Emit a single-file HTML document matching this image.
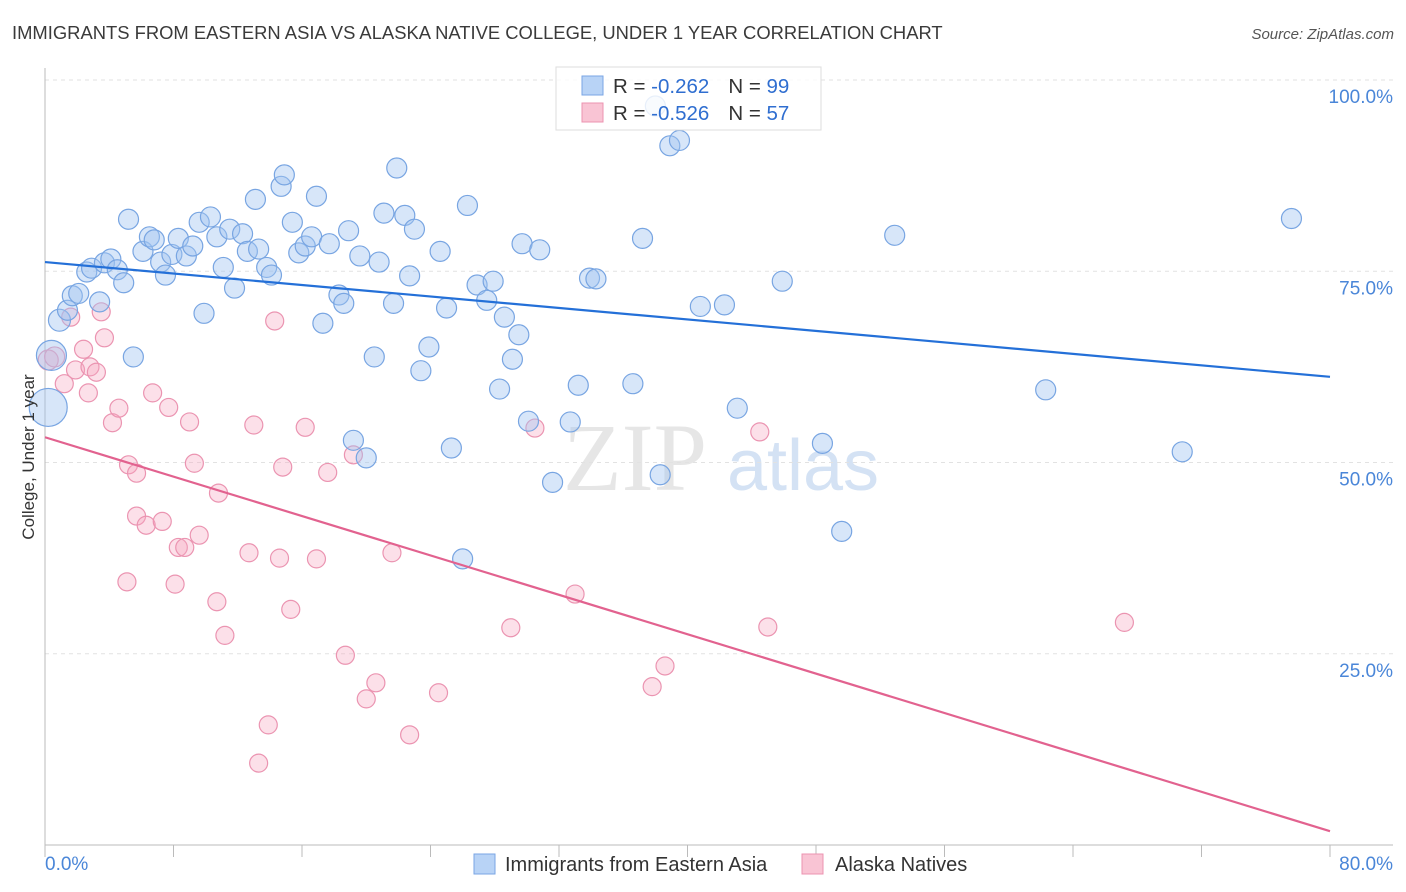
<!DOCTYPE html>
<html><head><meta charset="utf-8"><style>
body{margin:0;background:#fff;font-family:"Liberation Sans",sans-serif}
svg{display:block}
</style></head><body>
<svg id="chart" width="1406" height="892" xmlns="http://www.w3.org/2000/svg" font-family="Liberation Sans, sans-serif">
<text x="12" y="39" font-size="18.4" fill="#3a3a3a">IMMIGRANTS FROM EASTERN ASIA VS ALASKA NATIVE COLLEGE, UNDER 1 YEAR CORRELATION CHART</text>
<text x="1394" y="39" font-size="15" fill="#555" font-style="italic" text-anchor="end">Source: ZipAtlas.com</text>
<g>
<text x="635" y="490" font-size="96" fill="#e6e6e6" font-family="Liberation Serif, serif" text-anchor="middle">ZIP</text>
<text x="803" y="490" font-size="72" fill="#d4e2f4" text-anchor="middle">atlas</text>
</g>
<g id="grid"></g>
<g id="axes"></g>
<g id="marks"></g>
<text transform="translate(34,457) rotate(-90)" font-size="17" fill="#333" text-anchor="middle">College, Under 1 year</text>
<g>
<rect x="556" y="67" width="265" height="63" fill="rgba(255,255,255,0.82)" stroke="#ddd"/>
<rect x="582" y="76" width="21" height="19" fill="#b8d3f6" stroke="#7aa6e4"/>
<rect x="582" y="103" width="21" height="19" fill="#f9c4d4" stroke="#ec93b0"/>
<text x="613" y="93" font-size="20.5" fill="#333">R = <tspan fill="#2f6ed0">-0.262</tspan><tspan dx="19">N = </tspan><tspan fill="#2f6ed0">99</tspan></text>
<text x="613" y="120" font-size="20.5" fill="#333">R = <tspan fill="#2f6ed0">-0.526</tspan><tspan dx="19">N = </tspan><tspan fill="#2f6ed0">57</tspan></text>
</g>
<g>
<rect x="474" y="854" width="21" height="20" fill="#b8d3f6" stroke="#7aa6e4"/>
<text x="505" y="871" font-size="20" fill="#333">Immigrants from Eastern Asia</text>
<rect x="802" y="854" width="21" height="20" fill="#f9c4d4" stroke="#ec93b0"/>
<text x="835" y="871" font-size="20" fill="#333">Alaska Natives</text>
</g>
</svg>
<script>
const xTicks=[0,8,16,24,32,40,48,56,64,72,80];
const yTicks=[25,50,75,100];
const yTickLabels=["25.0%","50.0%","75.0%","100.0%"];
const blueX=[0.2,0.4,0.9,1.4,1.7,2.1,2.6,2.9,3.7,4.1,4.5,4.9,3.4,5.2,5.5,6.1,6.5,6.8,7.2,7.5,7.9,8.3,8.8,9.2,9.6,9.9,10.3,10.7,11.1,11.5,11.8,12.3,12.6,13.1,13.3,13.8,14.1,14.7,14.9,15.4,15.8,16.2,16.6,16.9,17.3,17.7,18.3,18.6,18.9,19.2,19.6,20.0,20.5,20.8,21.1,21.7,21.9,22.4,22.7,23.0,23.4,23.9,24.6,25.0,25.3,26.0,26.3,26.9,27.5,27.9,28.3,28.6,29.1,29.5,29.7,30.1,30.8,31.6,32.7,33.2,33.9,34.3,36.6,37.2,38.0,38.3,38.9,39.5,40.8,42.3,43.1,45.9,48.4,49.6,52.9,62.3,70.8,77.6];
const blueY=[57.2,64.0,68.6,69.9,71.8,72.1,74.9,75.4,76.1,76.6,75.2,73.5,71.0,81.8,63.8,77.6,79.5,79.1,76.2,74.5,77.2,79.3,77.0,78.3,81.4,69.5,82.1,79.5,75.5,80.5,72.8,79.9,77.6,84.4,77.9,75.5,74.5,86.1,87.6,81.4,77.4,78.3,79.5,84.8,68.2,78.6,71.9,70.8,80.3,52.9,77.0,50.6,63.8,76.2,82.6,70.8,88.5,82.3,74.4,80.5,62.0,65.1,77.6,70.2,51.9,37.4,83.6,73.2,71.2,73.7,59.6,69.0,63.5,66.7,78.6,55.4,77.8,47.4,55.3,60.1,74.1,74.0,60.3,79.3,96.6,48.4,91.4,92.1,70.4,70.6,57.1,73.7,52.5,41.0,79.7,59.5,51.4,81.9];
const pinkX=[0.2,0.6,1.6,1.2,1.9,2.4,2.7,2.8,3.2,3.5,3.7,4.2,4.6,5.1,5.2,5.7,5.7,6.3,6.7,7.3,7.7,8.1,8.3,8.7,9.0,9.3,9.6,10.7,10.8,11.2,12.7,13.0,13.3,13.9,14.3,14.6,14.8,15.3,16.2,16.9,17.6,18.7,19.2,20.0,20.6,21.6,22.7,24.5,29.0,30.5,33.0,37.8,38.6,44.5,45.0,67.2];
const pinkY=[63.4,63.8,69.0,60.3,62.1,64.8,59.1,62.5,61.8,69.7,66.3,55.2,57.1,34.4,49.7,48.6,43.0,41.8,59.1,42.3,57.2,34.1,38.9,38.9,55.3,49.9,40.5,31.8,46.0,27.4,38.2,54.9,10.7,15.7,68.5,37.5,49.4,30.8,54.6,37.4,48.7,24.8,51.0,19.1,21.2,38.2,14.4,19.9,28.4,54.5,32.8,20.7,23.4,54.0,28.5,29.1];
const blueTrend=[76.2,61.2];
const pinkTrend=[53.3,1.8];

const NS="http://www.w3.org/2000/svg";
const X0=45,X1=1330,Y0=845,Y100=80;
const sx=v=>X0+(v/80)*(X1-X0);
const sy=v=>Y0-(v/100)*(Y0-Y100);
function mk(tag,attrs,parent){const e=document.createElementNS(NS,tag);for(const k in attrs)e.setAttribute(k,attrs[k]);parent.appendChild(e);return e;}
const grid=document.getElementById('grid'),axes=document.getElementById('axes'),marks=document.getElementById('marks');
yTicks.forEach((t,i)=>{
  const l=mk('line',{x1:X0,x2:1393,y1:sy(t),y2:sy(t),stroke:'#e2e2e2','stroke-dasharray':'4,4'},grid);
  
  
  const tx=mk('text',{x:1393,y:sy(t)+23,'font-size':19,fill:'#4a86d8','text-anchor':'end'},axes);
  tx.textContent=yTickLabels[i];
  
  
});
const ya=mk('line',{x1:X0,x2:X0,y1:68,y2:Y0,stroke:'#bbb'},axes);


const xa=mk('line',{x1:X0,x2:1393,y1:Y0,y2:Y0,stroke:'#bbb'},axes);


xTicks.forEach(t=>{
  const tk=mk('line',{x1:sx(t),x2:sx(t),y1:Y0,y2:Y0+12,stroke:'#bbb'},axes);
  
  
});
const xl0=mk('text',{x:45,y:870,'font-size':19,fill:'#4a86d8'},axes);xl0.textContent='0.0%';


const xl1=mk('text',{x:1393,y:870,'font-size':19,fill:'#4a86d8','text-anchor':'end'},axes);xl1.textContent='80.0%';



pinkX.forEach((x,i)=>{
  const c=mk('circle',{cx:sx(x),cy:sy(pinkY[i]),r:i<2?10:9,fill:'rgba(245,165,192,0.35)',stroke:'#eb94b1','stroke-width':1.2},marks);
  
  
});
blueX.forEach((x,i)=>{
  const r=i===0?19:(i===1?15:(i===2?11:10));
  const c=mk('circle',{cx:sx(x),cy:sy(blueY[i]),r:r,fill:'rgba(160,196,240,0.42)',stroke:'#78a5e2','stroke-width':1.2},marks);
  
  
});
const bl=mk('line',{x1:sx(0),y1:sy(blueTrend[0]),x2:sx(80),y2:sy(blueTrend[1]),stroke:'#2470d8','stroke-width':2.2},marks);


const pl=mk('line',{x1:sx(0),y1:sy(pinkTrend[0]),x2:sx(80),y2:sy(pinkTrend[1]),stroke:'#e2628f','stroke-width':2.2},marks);


</script>
</body></html>
